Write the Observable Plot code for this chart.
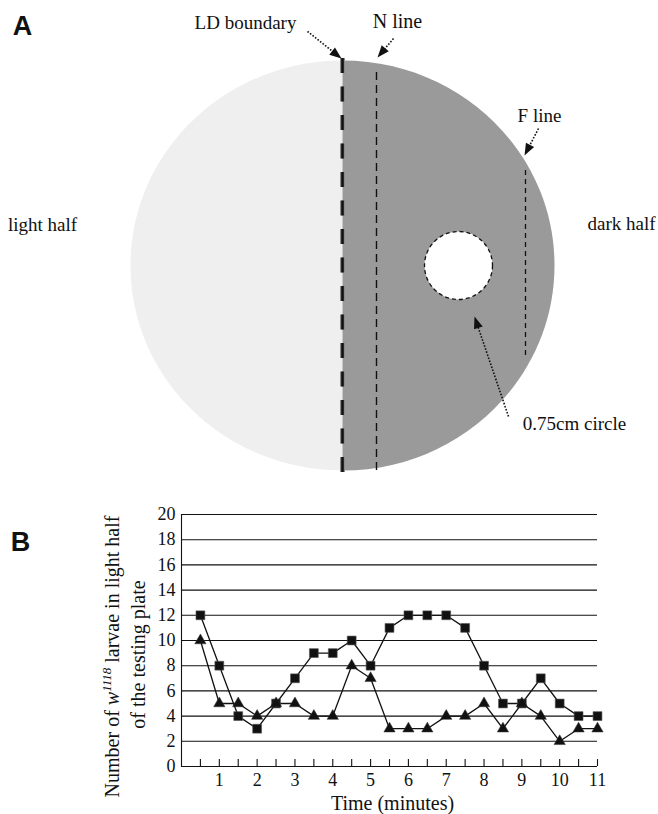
<!DOCTYPE html>
<html><head><meta charset="utf-8">
<script src="https://cdn.jsdelivr.net/npm/d3@7"></script>
<script src="https://cdn.jsdelivr.net/npm/@observablehq/plot@0.6"></script>
<style>
html,body{margin:0;padding:0;background:#fff;}
#fig{width:658px;height:814px;}
#fig svg{display:block;}
</style></head><body><div id="fig"></div>
<script>
// ---------- Panel B data ----------
const timeMin = [0.5,1,1.5,2,2.5,3,3.5,4,4.5,5,5.5,6,6.5,7,7.5,8,8.5,9,9.5,10,10.5,11];
const squareSeries = [12,8,4,3,5,7,9,9,10,8,11,12,12,12,11,8,5,5,7,5,4,4];
const triangleSeries = [10,5,5,4,5,5,4,4,8,7,3,3,3,4,4,5,3,5,4,2,3,3];
const yTickValues = [0,2,4,6,8,10,12,14,16,18,20];
const xTickLabels = [1,2,3,4,5,6,7,8,9,10,11];
const xTickMarks = [0.5,1,1.5,2,2.5,3,3.5,4,4.5,5,5.5,6,6.5,7,7.5,8,8.5,9,9.5,10,10.5,11];
const yLabelParts = ["Number of ", "w", "1118", " larvae in light half"];
const yLabelLine2 = "of the testing plate";
const xLabel = "Time (minutes)";

// ---------- Panel A diagram data (plate coordinates) ----------
const plate = [{x: 342, y: 265}];
const plateRadius = 205, plateAspect = 212 / 205;
const ldBoundary = [{x: 342, y1: 58, y2: 472}];
const nLine = [{x: 376, y1: 72, y2: 473}];
const fLine = [{x: 525, y1: 170, y2: 358}];
const smallCircle = [{x: 458, y: 265}];
const smallCircleRadius = 34;
const arrows = [
  {x1: 307, y1: 31, x2: 341, y2: 58},
  {x1: 393, y1: 38, x2: 377, y2: 57},
  {x1: 538, y1: 128, x2: 524, y2: 155},
  {x1: 508, y1: 416, x2: 474, y2: 316}
];
const labelsA = [
  {text: "LD boundary", x: 245, y: 22},
  {text: "F line", x: 539, y: 115},
  {text: "light half", x: 42, y: 224},
  {text: "dark half", x: 621, y: 223},
  {text: "0.75cm circle", x: 574, y: 423}
];
const labelN = [{text: "N line", x: 397, y: 21}];
const panelLetterA = [{text: "A", x: 22, y: 26}];

const serif = "'Liberation Serif', 'Times New Roman', serif";
const sans = "'Liberation Sans', Arial, sans-serif";
const lightFill = "#efefef", darkFill = "#999a99", ink = "#111";

function halfEllipse(side, aspect) {
  const k = 0.5522847, s = side === "left" ? -1 : 1;
  return {draw(ctx, size) {
    const ry = Math.sqrt(size / Math.PI), rx = ry * aspect;
    ctx.moveTo(0, -ry);
    ctx.bezierCurveTo(s * k * rx, -ry, s * rx, -k * ry, s * rx, 0);
    ctx.bezierCurveTo(s * rx, k * ry, s * k * rx, ry, 0, ry);
    ctx.closePath();
  }};
}
const headLen = 12, headHalf = 4.6;
function arrowHead(angle) {
  const c = Math.cos(angle), s = Math.sin(angle);
  return {draw(ctx) {
    ctx.moveTo(0, 0);
    ctx.lineTo(-headLen * c - headHalf * s, -headLen * s + headHalf * c);
    ctx.lineTo(-headLen * c + headHalf * s, -headLen * s - headHalf * c);
    ctx.closePath();
  }};
}
const ang = (a) => Math.atan2(a.y2 - a.y1, a.x2 - a.x1);

const plotA = Plot.plot({
  width: 658, height: 490, margin: 0,
  x: {domain: [0, 658], range: [0, 658], axis: null},
  y: {domain: [0, 490], range: [0, 490], axis: null},
  style: {fontFamily: serif, background: "white", color: ink},
  marks: [
    Plot.dot(plate, {x: "x", y: "y", r: plateRadius, symbol: halfEllipse("left", plateAspect), fill: lightFill, stroke: "none"}),
    Plot.dot(plate, {x: "x", y: "y", r: plateRadius, symbol: halfEllipse("right", plateAspect), fill: darkFill, stroke: "none"}),
    Plot.ruleX(nLine, {x: "x", y1: "y1", y2: "y2", stroke: ink, strokeWidth: 1.4, strokeDasharray: "8,5"}),
    Plot.ruleX(fLine, {x: "x", y1: "y1", y2: "y2", stroke: ink, strokeWidth: 1.3, strokeDasharray: "5,4"}),
    Plot.ruleX(ldBoundary, {x: "x", y1: "y1", y2: "y2", stroke: "#8c8c8c", strokeWidth: 5, strokeDasharray: "15,13.5"}),
    Plot.ruleX(ldBoundary, {x: "x", y1: "y1", y2: "y2", stroke: ink, strokeWidth: 2.6, strokeDasharray: "15,13.5"}),
    Plot.dot(smallCircle, {x: "x", y: "y", r: smallCircleRadius, fill: "white", stroke: ink, strokeWidth: 1.3, strokeDasharray: "4,3"}),
    Plot.link(arrows, {
      x1: "x1", y1: "y1",
      x2: (a) => a.x2 - (headLen - 1) * Math.cos(ang(a)),
      y2: (a) => a.y2 - (headLen - 1) * Math.sin(ang(a)),
      stroke: ink, strokeWidth: 1.6, strokeDasharray: "1.6,1.6"
    }),
    ...arrows.map((a) => Plot.dot([a], {x: "x2", y: "y2", r: 5, symbol: arrowHead(ang(a)), fill: ink, stroke: "none"})),
    Plot.text(labelsA, {x: "x", y: "y", text: "text", fontSize: 19, fill: ink}),
    Plot.text(labelN, {x: "x", y: "y", text: "text", fontSize: 20, fill: ink}),
    Plot.text(panelLetterA, {x: "x", y: "y", text: "text", fontSize: 27, fontWeight: "bold", fontFamily: sans, fill: ink})
  ]
});

const rows = timeMin.map((t, i) => ({t, sq: squareSeries[i], tri: triangleSeries[i]}));
const plotB = Plot.plot({
  width: 658, height: 324,
  marginLeft: 181, marginRight: 61, marginTop: 24, marginBottom: 48,
  x: {domain: [0, 11]},
  y: {domain: [0, 20]},
  style: {fontFamily: serif, fontSize: "18px", background: "white", color: ink},
  marks: [
    Plot.ruleY(yTickValues, {stroke: ink, strokeWidth: 1.1}),
    Plot.ruleX([0], {stroke: ink, strokeWidth: 1.1}),
    Plot.ruleX(xTickMarks, {x: (d) => d, y1: 0, y2: 0.55, stroke: ink, strokeWidth: 1.1}),
    Plot.axisY({ticks: yTickValues, tickSize: 0, tickPadding: 6, fontSize: 18, label: null}),
    Plot.axisX({ticks: xTickLabels, tickSize: 0, tickPadding: 7, fontSize: 18, label: null}),
    Plot.line(rows, {x: "t", y: "sq", stroke: ink, strokeWidth: 1.3}),
    Plot.line(rows, {x: "t", y: "tri", stroke: ink, strokeWidth: 1.3}),
    Plot.dot(rows, {x: "t", y: "sq", symbol: "square", r: 5, fill: ink, stroke: "#555", strokeWidth: 0.6}),
    Plot.dot(rows, {x: "t", y: "tri", symbol: "triangle", r: 4.2, fill: ink, stroke: "#333", strokeWidth: 0.5}),
    Plot.text([yLabelParts.join("")], {frameAnchor: "left", textAnchor: "middle", lineAnchor: "middle", dx: -69, dy: 16, rotate: -90, fontSize: 20, fill: ink}),
    Plot.text([yLabelLine2], {frameAnchor: "left", textAnchor: "middle", lineAnchor: "middle", dx: -43, dy: 14, rotate: -90, fontSize: 20, fill: ink}),
    Plot.text([xLabel], {frameAnchor: "bottom", textAnchor: "middle", lineAnchor: "middle", dx: 3, dy: 37, fontSize: 20, fill: ink}),
    Plot.text(["B"], {frameAnchor: "top-left", textAnchor: "middle", lineAnchor: "middle", dx: -161, dy: 28, fontSize: 27, fontWeight: "bold", fontFamily: sans, fill: ink})
  ]
});

// italic variable name with superscript allele number in the y label
d3.select(plotB).selectAll("text").filter(function() { return this.textContent === yLabelParts.join(""); }).each(function() {
  const t = d3.select(this);
  t.text(null);
  t.append("tspan").text(yLabelParts[0]);
  t.append("tspan").attr("font-style", "italic").text(yLabelParts[1]);
  t.append("tspan").attr("font-style", "italic").attr("font-size", 13).attr("dy", -8).text(yLabelParts[2]);
  t.append("tspan").attr("dy", 8).text(yLabelParts[3]);
});

const fig = document.getElementById("fig");
fig.append(plotA, plotB);
</script></body></html>
